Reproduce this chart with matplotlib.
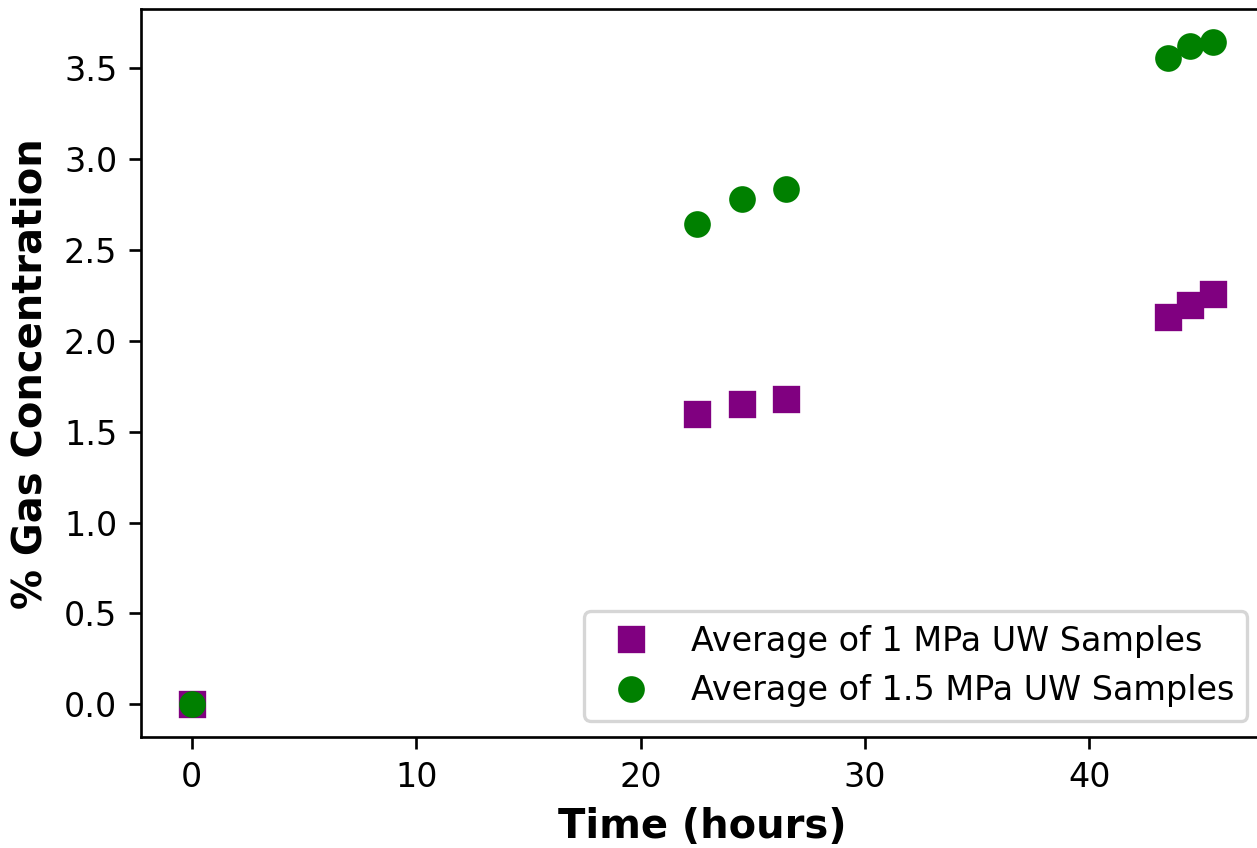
import matplotlib
matplotlib.use("Agg")
import matplotlib.pyplot as plt

# averaged gas readings, hours since start
hours_1mpa = [0, 22.5, 24.5, 26.5, 43.5, 44.5, 45.5]
gas_1mpa = [0.0, 1.60, 1.65, 1.68, 2.13, 2.20, 2.26]

hours_15mpa = [0, 22.5, 24.5, 26.5, 43.5, 44.5, 45.5]
gas_15mpa = [0.0, 2.645, 2.78, 2.835, 3.56, 3.625, 3.645]


def main():
    fig = plt.figure(figsize=(1257 / 240, 848 / 240), dpi=240)
    ax = fig.add_axes([0.1119, 0.1305, 0.8936, 0.8589])

    ax.plot(hours_1mpa, gas_1mpa, "s", color="purple", markersize=7,
            linestyle="none", label="Average of 1 MPa UW Samples")
    ax.plot(hours_15mpa, gas_15mpa, "o", color="green", markersize=7,
            linestyle="none", label="Average of 1.5 MPa UW Samples")

    ax.set_xlabel("Time (hours)", fontsize=12, fontweight="bold")
    ax.set_ylabel("% Gas Concentration", fontsize=12, fontweight="bold")
    ax.legend(loc="lower right")

    fig.savefig("out.png", dpi=240)


if __name__ == "__main__":
    main()
